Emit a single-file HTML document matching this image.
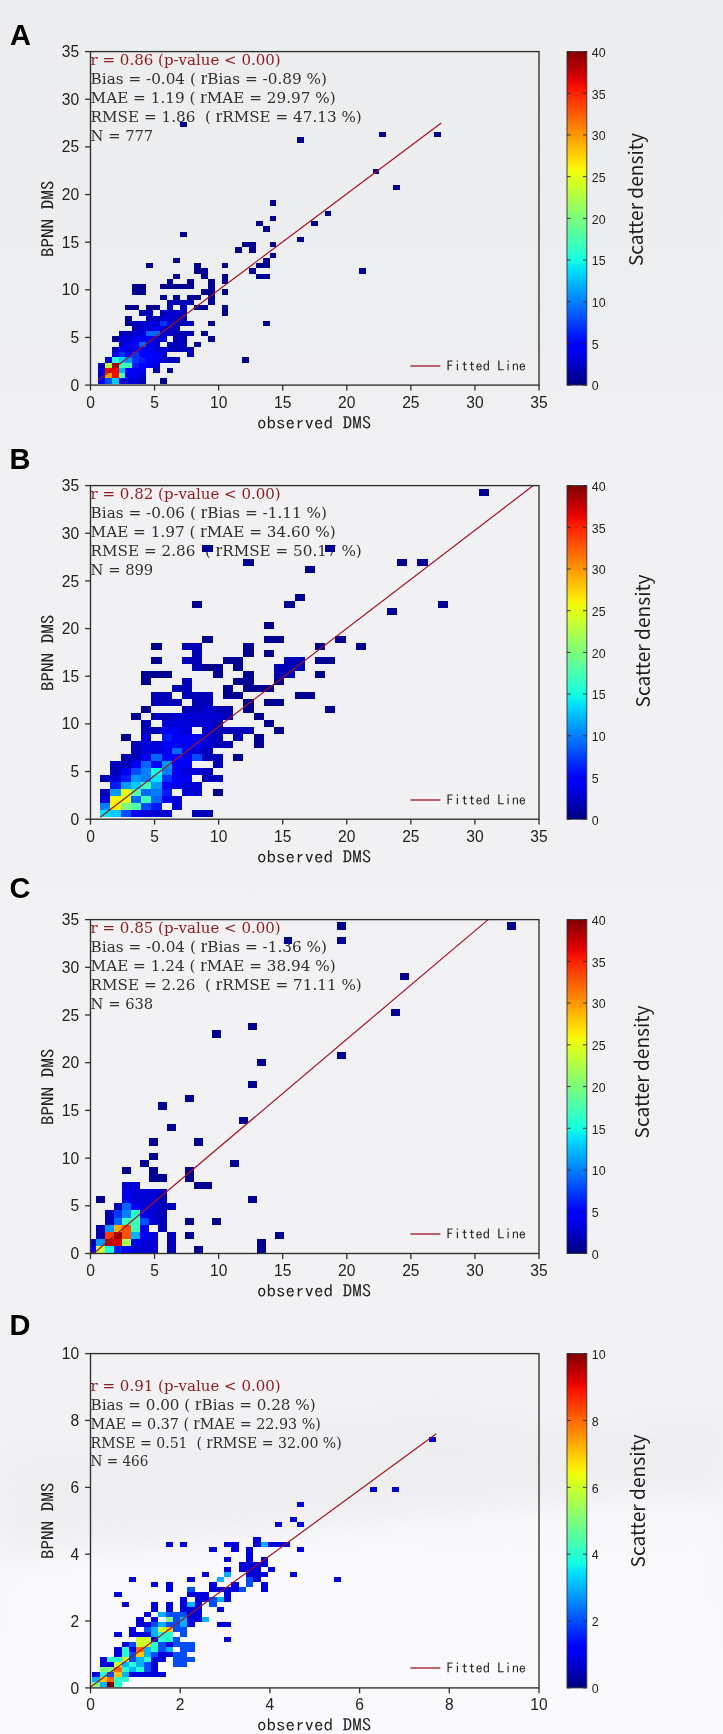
<!DOCTYPE html>
<html lang="en"><head><meta charset="utf-8"><title>BPNN DMS vs observed DMS</title>
<style>html,body{margin:0;padding:0;background:#f1f1f4}svg{display:block;filter:blur(0.45px)}.tk{font-family:"Liberation Sans",sans-serif;font-size:15.6px;fill:#222}.ck{font-family:"Liberation Sans",sans-serif;font-size:12.4px;fill:#222}.st{font-family:"DejaVu Serif","Liberation Serif",serif;font-size:14.8px;fill:#303030}.ax{font-family:"IPAGothic","Liberation Mono",monospace;fill:#222}.sd{font-family:"Noto Sans CJK SC","Liberation Sans",sans-serif;font-size:18.8px;fill:#1c1c1c}.pl{font-family:"Liberation Sans",sans-serif;font-weight:bold;font-size:29px;fill:#000}</style></head><body>
<svg width="723" height="1734" viewBox="0 0 723 1734">
<defs><linearGradient id="jet" x1="0" y1="1" x2="0" y2="0">
<stop offset="0.0000" stop-color="#000080"/>
<stop offset="0.0156" stop-color="#000092"/>
<stop offset="0.0312" stop-color="#0000a4"/>
<stop offset="0.0469" stop-color="#0000b6"/>
<stop offset="0.0625" stop-color="#0000c8"/>
<stop offset="0.0781" stop-color="#0000da"/>
<stop offset="0.0938" stop-color="#0000ec"/>
<stop offset="0.1094" stop-color="#0000fe"/>
<stop offset="0.1250" stop-color="#0000ff"/>
<stop offset="0.1406" stop-color="#0010ff"/>
<stop offset="0.1562" stop-color="#0020ff"/>
<stop offset="0.1719" stop-color="#0030ff"/>
<stop offset="0.1875" stop-color="#0040ff"/>
<stop offset="0.2031" stop-color="#0050ff"/>
<stop offset="0.2188" stop-color="#0060ff"/>
<stop offset="0.2344" stop-color="#0070ff"/>
<stop offset="0.2500" stop-color="#0080ff"/>
<stop offset="0.2656" stop-color="#008fff"/>
<stop offset="0.2812" stop-color="#009fff"/>
<stop offset="0.2969" stop-color="#00afff"/>
<stop offset="0.3125" stop-color="#00bfff"/>
<stop offset="0.3281" stop-color="#00cfff"/>
<stop offset="0.3438" stop-color="#00dffc"/>
<stop offset="0.3594" stop-color="#08efef"/>
<stop offset="0.3750" stop-color="#15ffe2"/>
<stop offset="0.3906" stop-color="#21ffd5"/>
<stop offset="0.4062" stop-color="#2effc9"/>
<stop offset="0.4219" stop-color="#3bffbc"/>
<stop offset="0.4375" stop-color="#48ffaf"/>
<stop offset="0.4531" stop-color="#55ffa2"/>
<stop offset="0.4688" stop-color="#62ff95"/>
<stop offset="0.4844" stop-color="#6fff88"/>
<stop offset="0.5000" stop-color="#7bff7b"/>
<stop offset="0.5156" stop-color="#88ff6f"/>
<stop offset="0.5312" stop-color="#95ff62"/>
<stop offset="0.5469" stop-color="#a2ff55"/>
<stop offset="0.5625" stop-color="#afff48"/>
<stop offset="0.5781" stop-color="#bcff3b"/>
<stop offset="0.5938" stop-color="#c9ff2e"/>
<stop offset="0.6094" stop-color="#d5ff21"/>
<stop offset="0.6250" stop-color="#e2ff15"/>
<stop offset="0.6406" stop-color="#effe08"/>
<stop offset="0.6562" stop-color="#fcf000"/>
<stop offset="0.6719" stop-color="#ffe100"/>
<stop offset="0.6875" stop-color="#ffd200"/>
<stop offset="0.7031" stop-color="#ffc300"/>
<stop offset="0.7188" stop-color="#ffb500"/>
<stop offset="0.7344" stop-color="#ffa600"/>
<stop offset="0.7500" stop-color="#ff9700"/>
<stop offset="0.7656" stop-color="#ff8800"/>
<stop offset="0.7812" stop-color="#ff7a00"/>
<stop offset="0.7969" stop-color="#ff6b00"/>
<stop offset="0.8125" stop-color="#ff5c00"/>
<stop offset="0.8281" stop-color="#ff4d00"/>
<stop offset="0.8438" stop-color="#ff3f00"/>
<stop offset="0.8594" stop-color="#ff3000"/>
<stop offset="0.8750" stop-color="#ff2100"/>
<stop offset="0.8906" stop-color="#fe1200"/>
<stop offset="0.9062" stop-color="#ec0400"/>
<stop offset="0.9219" stop-color="#da0000"/>
<stop offset="0.9375" stop-color="#c80000"/>
<stop offset="0.9531" stop-color="#b60000"/>
<stop offset="0.9688" stop-color="#a40000"/>
<stop offset="0.9844" stop-color="#920000"/>
<stop offset="1.0000" stop-color="#800000"/>
</linearGradient>
<linearGradient id="bgg" gradientUnits="userSpaceOnUse" x1="0" y1="0" x2="0" y2="1734"><stop offset="0" stop-color="#ecedef"/><stop offset="0.2" stop-color="#edeef0"/><stop offset="0.25" stop-color="#f1f1f4"/><stop offset="0.83" stop-color="#f2f2f5"/><stop offset="0.91" stop-color="#f7f7fa"/><stop offset="1" stop-color="#fafafd"/></linearGradient><filter id="soft" x="-20%" y="-20%" width="140%" height="140%"><feGaussianBlur stdDeviation="14"/></filter>
</defs>
<rect x="0" y="0" width="723" height="1734" fill="#f1f1f4"/>
<rect x="0" y="0" width="723" height="1734" fill="url(#bgg)"/><g filter="url(#soft)" opacity="0.6"><polygon points="0,1455 95,1450 300,1428 440,1412 560,1432 723,1420 723,1490 560,1500 330,1525 120,1545 0,1555" fill="#ebebee"/><polygon points="0,1560 200,1545 440,1515 723,1495 723,1734 0,1734" fill="#fbfbfe"/></g>
<g id="panel-A">
<rect x="90.5" y="51.6" width="448.5" height="333.5" fill="none"/>
<text class="st" x="90.6" y="65" xml:space="preserve" textLength="190.1" lengthAdjust="spacingAndGlyphs" style="fill:#8e1b1b">r = 0.86 (p-value &lt; 0.00)</text>
<text class="st" x="90.6" y="84.05" xml:space="preserve" textLength="236.3" lengthAdjust="spacingAndGlyphs">Bias = -0.04 ( <tspan font-family="Liberation Serif,serif" font-size="19px">r</tspan>Bias = -0.89 %)</text>
<text class="st" x="90.6" y="103.1" xml:space="preserve" textLength="245.1" lengthAdjust="spacingAndGlyphs">MAE = 1.19 ( <tspan font-family="Liberation Serif,serif" font-size="19px">r</tspan>MAE = 29.97 %)</text>
<text class="st" x="90.6" y="122.15" xml:space="preserve" textLength="271.2" lengthAdjust="spacingAndGlyphs">RMSE = 1.86  ( <tspan font-family="Liberation Serif,serif" font-size="19px">r</tspan>RMSE = 47.13 %)</text>
<text class="st" x="90.6" y="141.2" xml:space="preserve" textLength="62.6" lengthAdjust="spacingAndGlyphs">N = 777</text>
<clipPath id="clip0"><rect x="90.5" y="51.6" width="448.5" height="333.5"/></clipPath>
<g shape-rendering="crispEdges" clip-path="url(#clip0)">
<rect x="180" y="122" width="7" height="5" fill="#000091"/>
<rect x="379" y="132" width="7" height="5" fill="#000091"/>
<rect x="434" y="132" width="7" height="5" fill="#000091"/>
<rect x="297" y="137" width="7" height="6" fill="#000091"/>
<rect x="373" y="169" width="6" height="5" fill="#000091"/>
<rect x="393" y="185" width="7" height="5" fill="#000091"/>
<rect x="270" y="200" width="6" height="6" fill="#000091"/>
<rect x="325" y="211" width="6" height="5" fill="#000091"/>
<rect x="270" y="216" width="6" height="5" fill="#000091"/>
<rect x="256" y="221" width="7" height="5" fill="#000091"/>
<rect x="311" y="221" width="7" height="5" fill="#000091"/>
<rect x="263" y="226" width="7" height="6" fill="#000091"/>
<rect x="180" y="232" width="7" height="5" fill="#000091"/>
<rect x="297" y="237" width="7" height="5" fill="#000091"/>
<rect x="242" y="242" width="7" height="5" fill="#000091"/>
<rect x="249" y="242" width="7" height="5" fill="#000091"/>
<rect x="270" y="242" width="6" height="5" fill="#000091"/>
<rect x="235" y="247" width="7" height="6" fill="#000091"/>
<rect x="249" y="247" width="7" height="6" fill="#000091"/>
<rect x="270" y="253" width="6" height="5" fill="#000091"/>
<rect x="173" y="258" width="7" height="5" fill="#000091"/>
<rect x="263" y="258" width="7" height="5" fill="#000091"/>
<rect x="146" y="263" width="7" height="5" fill="#000091"/>
<rect x="194" y="263" width="7" height="5" fill="#000091"/>
<rect x="222" y="263" width="6" height="5" fill="#000091"/>
<rect x="256" y="263" width="7" height="5" fill="#000091"/>
<rect x="263" y="263" width="7" height="5" fill="#000091"/>
<rect x="194" y="268" width="7" height="6" fill="#000091"/>
<rect x="201" y="268" width="7" height="6" fill="#000091"/>
<rect x="249" y="268" width="7" height="6" fill="#000091"/>
<rect x="359" y="268" width="7" height="6" fill="#000091"/>
<rect x="173" y="274" width="7" height="5" fill="#000091"/>
<rect x="201" y="274" width="7" height="5" fill="#000091"/>
<rect x="222" y="274" width="6" height="5" fill="#000091"/>
<rect x="256" y="274" width="7" height="5" fill="#000091"/>
<rect x="263" y="274" width="7" height="5" fill="#000091"/>
<rect x="167" y="279" width="6" height="5" fill="#000091"/>
<rect x="187" y="279" width="7" height="5" fill="#000091"/>
<rect x="208" y="279" width="7" height="5" fill="#000091"/>
<rect x="222" y="279" width="6" height="5" fill="#000091"/>
<rect x="132" y="284" width="7" height="5" fill="#000091"/>
<rect x="139" y="284" width="7" height="5" fill="#000091"/>
<rect x="160" y="284" width="7" height="5" fill="#000091"/>
<rect x="167" y="284" width="6" height="5" fill="#000091"/>
<rect x="173" y="284" width="7" height="5" fill="#000091"/>
<rect x="180" y="284" width="7" height="5" fill="#000091"/>
<rect x="187" y="284" width="7" height="5" fill="#000091"/>
<rect x="208" y="284" width="7" height="5" fill="#000091"/>
<rect x="132" y="289" width="7" height="6" fill="#000091"/>
<rect x="139" y="289" width="7" height="6" fill="#000091"/>
<rect x="201" y="289" width="7" height="6" fill="#000091"/>
<rect x="208" y="289" width="7" height="6" fill="#000091"/>
<rect x="222" y="289" width="6" height="6" fill="#000091"/>
<rect x="160" y="295" width="7" height="5" fill="#000091"/>
<rect x="173" y="295" width="7" height="5" fill="#000091"/>
<rect x="187" y="295" width="7" height="5" fill="#000091"/>
<rect x="194" y="295" width="7" height="5" fill="#000091"/>
<rect x="208" y="295" width="7" height="5" fill="#000091"/>
<rect x="167" y="300" width="6" height="5" fill="#0000b9"/>
<rect x="173" y="300" width="7" height="5" fill="#0000b9"/>
<rect x="180" y="300" width="7" height="5" fill="#0000b9"/>
<rect x="187" y="300" width="7" height="5" fill="#0000b9"/>
<rect x="208" y="300" width="7" height="5" fill="#000091"/>
<rect x="125" y="305" width="7" height="5" fill="#000091"/>
<rect x="132" y="305" width="7" height="5" fill="#000091"/>
<rect x="146" y="305" width="7" height="5" fill="#000091"/>
<rect x="153" y="305" width="7" height="5" fill="#000091"/>
<rect x="167" y="305" width="6" height="5" fill="#0000b9"/>
<rect x="180" y="305" width="7" height="5" fill="#0000b9"/>
<rect x="194" y="305" width="7" height="5" fill="#000091"/>
<rect x="201" y="305" width="7" height="5" fill="#000091"/>
<rect x="222" y="305" width="6" height="5" fill="#000091"/>
<rect x="139" y="310" width="7" height="6" fill="#0000b9"/>
<rect x="146" y="310" width="7" height="6" fill="#0000b9"/>
<rect x="160" y="310" width="7" height="6" fill="#0000b9"/>
<rect x="167" y="310" width="6" height="6" fill="#0000d6"/>
<rect x="173" y="310" width="7" height="6" fill="#0000d6"/>
<rect x="180" y="310" width="7" height="6" fill="#0000b9"/>
<rect x="222" y="310" width="6" height="6" fill="#000091"/>
<rect x="125" y="316" width="7" height="5" fill="#000091"/>
<rect x="146" y="316" width="7" height="5" fill="#0000b9"/>
<rect x="153" y="316" width="7" height="5" fill="#0000b9"/>
<rect x="160" y="316" width="7" height="5" fill="#0000d6"/>
<rect x="167" y="316" width="6" height="5" fill="#0000d6"/>
<rect x="173" y="316" width="7" height="5" fill="#0000b9"/>
<rect x="180" y="316" width="7" height="5" fill="#0000b9"/>
<rect x="125" y="321" width="7" height="5" fill="#000091"/>
<rect x="132" y="321" width="7" height="5" fill="#0000b9"/>
<rect x="139" y="321" width="7" height="5" fill="#0000d6"/>
<rect x="146" y="321" width="7" height="5" fill="#0000d6"/>
<rect x="153" y="321" width="7" height="5" fill="#0000d6"/>
<rect x="160" y="321" width="7" height="5" fill="#0033ff"/>
<rect x="167" y="321" width="6" height="5" fill="#0000d6"/>
<rect x="173" y="321" width="7" height="5" fill="#0000b9"/>
<rect x="180" y="321" width="7" height="5" fill="#0000b9"/>
<rect x="187" y="321" width="7" height="5" fill="#0000b9"/>
<rect x="208" y="321" width="7" height="5" fill="#000091"/>
<rect x="263" y="321" width="7" height="5" fill="#000091"/>
<rect x="132" y="326" width="7" height="5" fill="#0000b9"/>
<rect x="139" y="326" width="7" height="5" fill="#0000d6"/>
<rect x="146" y="326" width="7" height="5" fill="#0000d6"/>
<rect x="153" y="326" width="7" height="5" fill="#0000f3"/>
<rect x="160" y="326" width="7" height="5" fill="#0000d6"/>
<rect x="167" y="326" width="6" height="5" fill="#0000b9"/>
<rect x="173" y="326" width="7" height="5" fill="#0000b9"/>
<rect x="119" y="331" width="6" height="5" fill="#0000b9"/>
<rect x="125" y="331" width="7" height="5" fill="#0000b9"/>
<rect x="132" y="331" width="7" height="5" fill="#0000d6"/>
<rect x="139" y="331" width="7" height="5" fill="#0000d6"/>
<rect x="146" y="331" width="7" height="5" fill="#0066ff"/>
<rect x="153" y="331" width="7" height="5" fill="#0066ff"/>
<rect x="160" y="331" width="7" height="5" fill="#0000d6"/>
<rect x="167" y="331" width="6" height="5" fill="#0000b9"/>
<rect x="173" y="331" width="7" height="5" fill="#0000b9"/>
<rect x="180" y="331" width="7" height="5" fill="#0000b9"/>
<rect x="187" y="331" width="7" height="5" fill="#0000b9"/>
<rect x="201" y="331" width="7" height="5" fill="#000091"/>
<rect x="112" y="336" width="7" height="6" fill="#000091"/>
<rect x="119" y="336" width="6" height="6" fill="#0000d6"/>
<rect x="125" y="336" width="7" height="6" fill="#0000d6"/>
<rect x="132" y="336" width="7" height="6" fill="#0000f3"/>
<rect x="139" y="336" width="7" height="6" fill="#0000f3"/>
<rect x="146" y="336" width="7" height="6" fill="#0000f3"/>
<rect x="153" y="336" width="7" height="6" fill="#0000d6"/>
<rect x="160" y="336" width="7" height="6" fill="#0000d6"/>
<rect x="173" y="336" width="7" height="6" fill="#0000b9"/>
<rect x="180" y="336" width="7" height="6" fill="#0000b9"/>
<rect x="208" y="336" width="7" height="6" fill="#000091"/>
<rect x="119" y="342" width="6" height="5" fill="#0000d6"/>
<rect x="125" y="342" width="7" height="5" fill="#0000f3"/>
<rect x="132" y="342" width="7" height="5" fill="#0000ff"/>
<rect x="139" y="342" width="7" height="5" fill="#0066ff"/>
<rect x="146" y="342" width="7" height="5" fill="#0000f3"/>
<rect x="153" y="342" width="7" height="5" fill="#0000d6"/>
<rect x="167" y="342" width="6" height="5" fill="#0000b9"/>
<rect x="173" y="342" width="7" height="5" fill="#0000b9"/>
<rect x="180" y="342" width="7" height="5" fill="#0000b9"/>
<rect x="194" y="342" width="7" height="5" fill="#000091"/>
<rect x="112" y="347" width="7" height="5" fill="#0000b9"/>
<rect x="119" y="347" width="6" height="5" fill="#0000ff"/>
<rect x="125" y="347" width="7" height="5" fill="#0000d6"/>
<rect x="132" y="347" width="7" height="5" fill="#0000ff"/>
<rect x="139" y="347" width="7" height="5" fill="#0000ff"/>
<rect x="146" y="347" width="7" height="5" fill="#0000f3"/>
<rect x="153" y="347" width="7" height="5" fill="#0000d6"/>
<rect x="160" y="347" width="7" height="5" fill="#0000d6"/>
<rect x="167" y="347" width="6" height="5" fill="#0000b9"/>
<rect x="173" y="347" width="7" height="5" fill="#0000b9"/>
<rect x="180" y="347" width="7" height="5" fill="#0000b9"/>
<rect x="187" y="347" width="7" height="5" fill="#0000b9"/>
<rect x="112" y="352" width="7" height="5" fill="#0000f3"/>
<rect x="119" y="352" width="6" height="5" fill="#0033ff"/>
<rect x="125" y="352" width="7" height="5" fill="#0000ff"/>
<rect x="132" y="352" width="7" height="5" fill="#0033ff"/>
<rect x="139" y="352" width="7" height="5" fill="#0000ff"/>
<rect x="146" y="352" width="7" height="5" fill="#0000ff"/>
<rect x="153" y="352" width="7" height="5" fill="#0000f3"/>
<rect x="160" y="352" width="7" height="5" fill="#0000d6"/>
<rect x="187" y="352" width="7" height="5" fill="#0000b9"/>
<rect x="105" y="357" width="7" height="6" fill="#0000d6"/>
<rect x="112" y="357" width="7" height="6" fill="#29ffce"/>
<rect x="119" y="357" width="6" height="6" fill="#00ccff"/>
<rect x="125" y="357" width="7" height="6" fill="#0099ff"/>
<rect x="132" y="357" width="7" height="6" fill="#0033ff"/>
<rect x="139" y="357" width="7" height="6" fill="#0019ff"/>
<rect x="146" y="357" width="7" height="6" fill="#0000ff"/>
<rect x="153" y="357" width="7" height="6" fill="#0000f3"/>
<rect x="160" y="357" width="7" height="6" fill="#0000d6"/>
<rect x="167" y="357" width="6" height="6" fill="#0000b9"/>
<rect x="173" y="357" width="7" height="6" fill="#0000b9"/>
<rect x="242" y="357" width="7" height="6" fill="#000091"/>
<rect x="98" y="363" width="7" height="5" fill="#0000b9"/>
<rect x="105" y="363" width="7" height="5" fill="#b9ff3e"/>
<rect x="112" y="363" width="7" height="5" fill="#9c0000"/>
<rect x="119" y="363" width="6" height="5" fill="#3effb9"/>
<rect x="125" y="363" width="7" height="5" fill="#3effb9"/>
<rect x="132" y="363" width="7" height="5" fill="#0019ff"/>
<rect x="139" y="363" width="7" height="5" fill="#0000ff"/>
<rect x="146" y="363" width="7" height="5" fill="#0000f3"/>
<rect x="153" y="363" width="7" height="5" fill="#0000d6"/>
<rect x="98" y="368" width="7" height="5" fill="#0000d6"/>
<rect x="105" y="368" width="7" height="5" fill="#f30900"/>
<rect x="112" y="368" width="7" height="5" fill="#f30900"/>
<rect x="119" y="368" width="6" height="5" fill="#00b2ff"/>
<rect x="125" y="368" width="7" height="5" fill="#0000ff"/>
<rect x="132" y="368" width="7" height="5" fill="#0000f3"/>
<rect x="139" y="368" width="7" height="5" fill="#0000f3"/>
<rect x="153" y="368" width="7" height="5" fill="#0000b9"/>
<rect x="167" y="368" width="6" height="5" fill="#000091"/>
<rect x="98" y="373" width="7" height="5" fill="#0000d6"/>
<rect x="105" y="373" width="7" height="5" fill="#ff9700"/>
<rect x="112" y="373" width="7" height="5" fill="#f30900"/>
<rect x="119" y="373" width="6" height="5" fill="#52ffa5"/>
<rect x="125" y="373" width="7" height="5" fill="#0000f3"/>
<rect x="132" y="373" width="7" height="5" fill="#0000f3"/>
<rect x="139" y="373" width="7" height="5" fill="#0000d6"/>
<rect x="98" y="378" width="7" height="6" fill="#0000ff"/>
<rect x="105" y="378" width="7" height="6" fill="#004dff"/>
<rect x="112" y="378" width="7" height="6" fill="#00ccff"/>
<rect x="119" y="378" width="6" height="6" fill="#0000d6"/>
<rect x="125" y="378" width="7" height="6" fill="#0000d6"/>
<rect x="132" y="378" width="7" height="6" fill="#0000d6"/>
<rect x="139" y="378" width="7" height="6" fill="#0000b9"/>
<rect x="160" y="378" width="7" height="6" fill="#000091"/>
</g>
<line x1="97.93" y1="380.34" x2="441.23" y2="123.06" stroke="#a01424" stroke-width="1.2" clip-path="url(#clip0)"/>
<rect x="90.5" y="51.6" width="448.5" height="333.5" fill="none" stroke="#2e2e2e" stroke-width="1.35"/>
<line x1="90.5" y1="385.1" x2="90.5" y2="390.5" stroke="#2e2e2e" stroke-width="1.3"/>
<text class="tk" x="90.5" y="407.8" text-anchor="middle">0</text>
<line x1="85.1" y1="385.1" x2="90.5" y2="385.1" stroke="#2e2e2e" stroke-width="1.3"/>
<text class="tk" x="79.1" y="390.7" text-anchor="end">0</text>
<line x1="154.57" y1="385.1" x2="154.57" y2="390.5" stroke="#2e2e2e" stroke-width="1.3"/>
<text class="tk" x="154.57" y="407.8" text-anchor="middle">5</text>
<line x1="85.1" y1="337.46" x2="90.5" y2="337.46" stroke="#2e2e2e" stroke-width="1.3"/>
<text class="tk" x="79.1" y="343.06" text-anchor="end">5</text>
<line x1="218.64" y1="385.1" x2="218.64" y2="390.5" stroke="#2e2e2e" stroke-width="1.3"/>
<text class="tk" x="218.64" y="407.8" text-anchor="middle">10</text>
<line x1="85.1" y1="289.81" x2="90.5" y2="289.81" stroke="#2e2e2e" stroke-width="1.3"/>
<text class="tk" x="79.1" y="295.41" text-anchor="end">10</text>
<line x1="282.71" y1="385.1" x2="282.71" y2="390.5" stroke="#2e2e2e" stroke-width="1.3"/>
<text class="tk" x="282.71" y="407.8" text-anchor="middle">15</text>
<line x1="85.1" y1="242.17" x2="90.5" y2="242.17" stroke="#2e2e2e" stroke-width="1.3"/>
<text class="tk" x="79.1" y="247.77" text-anchor="end">15</text>
<line x1="346.79" y1="385.1" x2="346.79" y2="390.5" stroke="#2e2e2e" stroke-width="1.3"/>
<text class="tk" x="346.79" y="407.8" text-anchor="middle">20</text>
<line x1="85.1" y1="194.53" x2="90.5" y2="194.53" stroke="#2e2e2e" stroke-width="1.3"/>
<text class="tk" x="79.1" y="200.13" text-anchor="end">20</text>
<line x1="410.86" y1="385.1" x2="410.86" y2="390.5" stroke="#2e2e2e" stroke-width="1.3"/>
<text class="tk" x="410.86" y="407.8" text-anchor="middle">25</text>
<line x1="85.1" y1="146.89" x2="90.5" y2="146.89" stroke="#2e2e2e" stroke-width="1.3"/>
<text class="tk" x="79.1" y="152.49" text-anchor="end">25</text>
<line x1="474.93" y1="385.1" x2="474.93" y2="390.5" stroke="#2e2e2e" stroke-width="1.3"/>
<text class="tk" x="474.93" y="407.8" text-anchor="middle">30</text>
<line x1="85.1" y1="99.24" x2="90.5" y2="99.24" stroke="#2e2e2e" stroke-width="1.3"/>
<text class="tk" x="79.1" y="104.84" text-anchor="end">30</text>
<line x1="539" y1="385.1" x2="539" y2="390.5" stroke="#2e2e2e" stroke-width="1.3"/>
<text class="tk" x="539" y="407.8" text-anchor="middle">35</text>
<line x1="85.1" y1="51.6" x2="90.5" y2="51.6" stroke="#2e2e2e" stroke-width="1.3"/>
<text class="tk" x="79.1" y="57.2" text-anchor="end">35</text>
<text class="ax" font-size="17px" x="257.0" y="428.7" textLength="114.2" lengthAdjust="spacingAndGlyphs">observed DMS</text>
<text class="ax" font-size="17px" transform="translate(54.2 257.1) rotate(-90)" textLength="76.5" lengthAdjust="spacingAndGlyphs">BPNN DMS</text>
<line x1="410.4" y1="366" x2="440.4" y2="366" stroke="#a8323f" stroke-width="1.5"/>
<text class="ax" font-size="14px" x="446.5" y="371.3" textLength="79.6" lengthAdjust="spacingAndGlyphs">Fitted Line</text>
<rect x="567" y="51.6" width="19.8" height="333.5" fill="url(#jet)" stroke="#30303a" stroke-width="0.9"/>
<line x1="567" y1="385.1" x2="570.8" y2="385.1" stroke="#2a2a2a" stroke-width="0.9"/>
<line x1="583" y1="385.1" x2="586.8" y2="385.1" stroke="#2a2a2a" stroke-width="0.9"/>
<text class="ck" x="591.8" y="390.4">0</text>
<line x1="567" y1="343.41" x2="570.8" y2="343.41" stroke="#2a2a2a" stroke-width="0.9"/>
<line x1="583" y1="343.41" x2="586.8" y2="343.41" stroke="#2a2a2a" stroke-width="0.9"/>
<text class="ck" x="591.8" y="348.71">5</text>
<line x1="567" y1="301.73" x2="570.8" y2="301.73" stroke="#2a2a2a" stroke-width="0.9"/>
<line x1="583" y1="301.73" x2="586.8" y2="301.73" stroke="#2a2a2a" stroke-width="0.9"/>
<text class="ck" x="591.8" y="307.03">10</text>
<line x1="567" y1="260.04" x2="570.8" y2="260.04" stroke="#2a2a2a" stroke-width="0.9"/>
<line x1="583" y1="260.04" x2="586.8" y2="260.04" stroke="#2a2a2a" stroke-width="0.9"/>
<text class="ck" x="591.8" y="265.34">15</text>
<line x1="567" y1="218.35" x2="570.8" y2="218.35" stroke="#2a2a2a" stroke-width="0.9"/>
<line x1="583" y1="218.35" x2="586.8" y2="218.35" stroke="#2a2a2a" stroke-width="0.9"/>
<text class="ck" x="591.8" y="223.65">20</text>
<line x1="567" y1="176.66" x2="570.8" y2="176.66" stroke="#2a2a2a" stroke-width="0.9"/>
<line x1="583" y1="176.66" x2="586.8" y2="176.66" stroke="#2a2a2a" stroke-width="0.9"/>
<text class="ck" x="591.8" y="181.96">25</text>
<line x1="567" y1="134.98" x2="570.8" y2="134.98" stroke="#2a2a2a" stroke-width="0.9"/>
<line x1="583" y1="134.98" x2="586.8" y2="134.98" stroke="#2a2a2a" stroke-width="0.9"/>
<text class="ck" x="591.8" y="140.28">30</text>
<line x1="567" y1="93.29" x2="570.8" y2="93.29" stroke="#2a2a2a" stroke-width="0.9"/>
<line x1="583" y1="93.29" x2="586.8" y2="93.29" stroke="#2a2a2a" stroke-width="0.9"/>
<text class="ck" x="591.8" y="98.59">35</text>
<line x1="567" y1="51.6" x2="570.8" y2="51.6" stroke="#2a2a2a" stroke-width="0.9"/>
<line x1="583" y1="51.6" x2="586.8" y2="51.6" stroke="#2a2a2a" stroke-width="0.9"/>
<text class="ck" x="591.8" y="56.9">40</text>
<text class="sd" transform="translate(643 199.6) rotate(-90)" text-anchor="middle" textLength="133" lengthAdjust="spacingAndGlyphs">Scatter density</text>
<text class="pl" x="9.9" y="45.2">A</text>
</g>
<g id="panel-B">
<rect x="90.5" y="485.6" width="448.5" height="333.6" fill="none"/>
<text class="st" x="90.6" y="499" xml:space="preserve" textLength="190.1" lengthAdjust="spacingAndGlyphs" style="fill:#8e1b1b">r = 0.82 (p-value &lt; 0.00)</text>
<text class="st" x="90.6" y="518.05" xml:space="preserve" textLength="236.3" lengthAdjust="spacingAndGlyphs">Bias = -0.06 ( <tspan font-family="Liberation Serif,serif" font-size="19px">r</tspan>Bias = -1.11 %)</text>
<text class="st" x="90.6" y="537.1" xml:space="preserve" textLength="245.1" lengthAdjust="spacingAndGlyphs">MAE = 1.97 ( <tspan font-family="Liberation Serif,serif" font-size="19px">r</tspan>MAE = 34.60 %)</text>
<text class="st" x="90.6" y="556.15" xml:space="preserve" textLength="271.2" lengthAdjust="spacingAndGlyphs">RMSE = 2.86  ( <tspan font-family="Liberation Serif,serif" font-size="19px">r</tspan>RMSE = 50.17 %)</text>
<text class="st" x="90.6" y="575.2" xml:space="preserve" textLength="62.6" lengthAdjust="spacingAndGlyphs">N = 899</text>
<clipPath id="clip1"><rect x="90.5" y="485.6" width="448.5" height="333.6"/></clipPath>
<g shape-rendering="crispEdges" clip-path="url(#clip1)">
<rect x="479" y="489" width="10" height="7" fill="#000091"/>
<rect x="202" y="545" width="11" height="7" fill="#000091"/>
<rect x="325" y="545" width="10" height="7" fill="#000091"/>
<rect x="243" y="559" width="11" height="7" fill="#000091"/>
<rect x="397" y="559" width="10" height="7" fill="#000091"/>
<rect x="417" y="559" width="11" height="7" fill="#000091"/>
<rect x="305" y="566" width="10" height="7" fill="#000091"/>
<rect x="295" y="594" width="10" height="7" fill="#000091"/>
<rect x="192" y="601" width="10" height="7" fill="#000091"/>
<rect x="284" y="601" width="11" height="7" fill="#000091"/>
<rect x="438" y="601" width="10" height="7" fill="#000091"/>
<rect x="387" y="608" width="10" height="7" fill="#000091"/>
<rect x="264" y="622" width="10" height="7" fill="#000091"/>
<rect x="202" y="636" width="11" height="7" fill="#000091"/>
<rect x="264" y="636" width="10" height="7" fill="#000091"/>
<rect x="274" y="636" width="10" height="7" fill="#000091"/>
<rect x="335" y="636" width="11" height="7" fill="#000091"/>
<rect x="151" y="643" width="11" height="7" fill="#000091"/>
<rect x="182" y="643" width="10" height="7" fill="#0000b9"/>
<rect x="192" y="643" width="10" height="7" fill="#0000b9"/>
<rect x="243" y="643" width="11" height="7" fill="#000091"/>
<rect x="315" y="643" width="10" height="7" fill="#000091"/>
<rect x="356" y="643" width="10" height="7" fill="#000091"/>
<rect x="192" y="650" width="10" height="7" fill="#0000b9"/>
<rect x="243" y="650" width="11" height="7" fill="#000091"/>
<rect x="264" y="650" width="10" height="7" fill="#000091"/>
<rect x="151" y="657" width="11" height="7" fill="#000091"/>
<rect x="182" y="657" width="10" height="7" fill="#0000b9"/>
<rect x="192" y="657" width="10" height="7" fill="#0000b9"/>
<rect x="223" y="657" width="10" height="7" fill="#000091"/>
<rect x="233" y="657" width="10" height="7" fill="#000091"/>
<rect x="284" y="657" width="11" height="7" fill="#0000b9"/>
<rect x="295" y="657" width="10" height="7" fill="#0000b9"/>
<rect x="315" y="657" width="10" height="7" fill="#000091"/>
<rect x="325" y="657" width="10" height="7" fill="#000091"/>
<rect x="192" y="664" width="10" height="7" fill="#0000b9"/>
<rect x="202" y="664" width="11" height="7" fill="#000091"/>
<rect x="213" y="664" width="10" height="7" fill="#000091"/>
<rect x="233" y="664" width="10" height="7" fill="#000091"/>
<rect x="274" y="664" width="10" height="7" fill="#0000b9"/>
<rect x="284" y="664" width="11" height="7" fill="#0000b9"/>
<rect x="295" y="664" width="10" height="7" fill="#0000b9"/>
<rect x="141" y="671" width="10" height="7" fill="#000091"/>
<rect x="151" y="671" width="11" height="7" fill="#000091"/>
<rect x="162" y="671" width="10" height="7" fill="#000091"/>
<rect x="213" y="671" width="10" height="7" fill="#000091"/>
<rect x="243" y="671" width="11" height="7" fill="#000091"/>
<rect x="274" y="671" width="10" height="7" fill="#0000b9"/>
<rect x="284" y="671" width="11" height="7" fill="#0000b9"/>
<rect x="315" y="671" width="10" height="7" fill="#000091"/>
<rect x="141" y="678" width="10" height="7" fill="#000091"/>
<rect x="182" y="678" width="10" height="7" fill="#0000b9"/>
<rect x="233" y="678" width="10" height="7" fill="#000091"/>
<rect x="243" y="678" width="11" height="7" fill="#000091"/>
<rect x="274" y="678" width="10" height="7" fill="#000091"/>
<rect x="172" y="685" width="10" height="7" fill="#0000b9"/>
<rect x="182" y="685" width="10" height="7" fill="#0000b9"/>
<rect x="223" y="685" width="10" height="7" fill="#000091"/>
<rect x="243" y="685" width="11" height="7" fill="#000091"/>
<rect x="254" y="685" width="10" height="7" fill="#000091"/>
<rect x="264" y="685" width="10" height="7" fill="#000091"/>
<rect x="151" y="692" width="11" height="7" fill="#0000b9"/>
<rect x="162" y="692" width="10" height="7" fill="#0000b9"/>
<rect x="182" y="692" width="10" height="7" fill="#0000b9"/>
<rect x="192" y="692" width="10" height="7" fill="#0000b9"/>
<rect x="202" y="692" width="11" height="7" fill="#0000b9"/>
<rect x="223" y="692" width="10" height="7" fill="#000091"/>
<rect x="233" y="692" width="10" height="7" fill="#000091"/>
<rect x="295" y="692" width="10" height="7" fill="#000091"/>
<rect x="305" y="692" width="10" height="7" fill="#000091"/>
<rect x="151" y="699" width="11" height="7" fill="#0000b9"/>
<rect x="162" y="699" width="10" height="7" fill="#0000b9"/>
<rect x="172" y="699" width="10" height="7" fill="#0000b9"/>
<rect x="192" y="699" width="10" height="7" fill="#0000b9"/>
<rect x="202" y="699" width="11" height="7" fill="#0000b9"/>
<rect x="243" y="699" width="11" height="7" fill="#000091"/>
<rect x="264" y="699" width="10" height="7" fill="#000091"/>
<rect x="274" y="699" width="10" height="7" fill="#000091"/>
<rect x="141" y="706" width="10" height="7" fill="#000091"/>
<rect x="182" y="706" width="10" height="7" fill="#0000b9"/>
<rect x="192" y="706" width="10" height="7" fill="#0000b9"/>
<rect x="202" y="706" width="11" height="7" fill="#0000d6"/>
<rect x="213" y="706" width="10" height="7" fill="#0000b9"/>
<rect x="223" y="706" width="10" height="7" fill="#0000b9"/>
<rect x="243" y="706" width="11" height="7" fill="#000091"/>
<rect x="325" y="706" width="10" height="7" fill="#000091"/>
<rect x="131" y="713" width="10" height="7" fill="#000091"/>
<rect x="151" y="713" width="11" height="7" fill="#0000b9"/>
<rect x="162" y="713" width="10" height="7" fill="#0000b9"/>
<rect x="172" y="713" width="10" height="7" fill="#0000d6"/>
<rect x="182" y="713" width="10" height="7" fill="#0000d6"/>
<rect x="192" y="713" width="10" height="7" fill="#0000d6"/>
<rect x="202" y="713" width="11" height="7" fill="#0000d6"/>
<rect x="213" y="713" width="10" height="7" fill="#0000d6"/>
<rect x="223" y="713" width="10" height="7" fill="#0000b9"/>
<rect x="254" y="713" width="10" height="7" fill="#000091"/>
<rect x="141" y="720" width="10" height="7" fill="#0000b9"/>
<rect x="162" y="720" width="10" height="7" fill="#0000d6"/>
<rect x="172" y="720" width="10" height="7" fill="#0000d6"/>
<rect x="182" y="720" width="10" height="7" fill="#0000d6"/>
<rect x="192" y="720" width="10" height="7" fill="#0000d6"/>
<rect x="202" y="720" width="11" height="7" fill="#0000d6"/>
<rect x="213" y="720" width="10" height="7" fill="#0000b9"/>
<rect x="264" y="720" width="10" height="7" fill="#000091"/>
<rect x="141" y="727" width="10" height="7" fill="#0000b9"/>
<rect x="151" y="727" width="11" height="7" fill="#0000b9"/>
<rect x="162" y="727" width="10" height="7" fill="#0000f3"/>
<rect x="172" y="727" width="10" height="7" fill="#0000f3"/>
<rect x="182" y="727" width="10" height="7" fill="#0000d6"/>
<rect x="202" y="727" width="11" height="7" fill="#0000d6"/>
<rect x="213" y="727" width="10" height="7" fill="#0000b9"/>
<rect x="223" y="727" width="10" height="7" fill="#0000b9"/>
<rect x="233" y="727" width="10" height="7" fill="#0000b9"/>
<rect x="243" y="727" width="11" height="7" fill="#0000b9"/>
<rect x="274" y="727" width="10" height="7" fill="#000091"/>
<rect x="121" y="734" width="10" height="7" fill="#000091"/>
<rect x="141" y="734" width="10" height="7" fill="#0000d6"/>
<rect x="162" y="734" width="10" height="7" fill="#0019ff"/>
<rect x="172" y="734" width="10" height="7" fill="#0000f3"/>
<rect x="182" y="734" width="10" height="7" fill="#0000f3"/>
<rect x="192" y="734" width="10" height="7" fill="#0000f3"/>
<rect x="202" y="734" width="11" height="7" fill="#0000d6"/>
<rect x="213" y="734" width="10" height="7" fill="#0000b9"/>
<rect x="233" y="734" width="10" height="7" fill="#0000b9"/>
<rect x="254" y="734" width="10" height="7" fill="#000091"/>
<rect x="131" y="741" width="10" height="7" fill="#0000b9"/>
<rect x="141" y="741" width="10" height="7" fill="#0000d6"/>
<rect x="151" y="741" width="11" height="7" fill="#0000d6"/>
<rect x="162" y="741" width="10" height="7" fill="#0000ff"/>
<rect x="172" y="741" width="10" height="7" fill="#0000ff"/>
<rect x="182" y="741" width="10" height="7" fill="#0000f3"/>
<rect x="192" y="741" width="10" height="7" fill="#0000ff"/>
<rect x="202" y="741" width="11" height="7" fill="#0000d6"/>
<rect x="213" y="741" width="10" height="7" fill="#0000b9"/>
<rect x="223" y="741" width="10" height="7" fill="#0000b9"/>
<rect x="254" y="741" width="10" height="7" fill="#000091"/>
<rect x="131" y="748" width="10" height="6" fill="#0000b9"/>
<rect x="141" y="748" width="10" height="6" fill="#0000d6"/>
<rect x="151" y="748" width="11" height="6" fill="#0000d6"/>
<rect x="162" y="748" width="10" height="6" fill="#0000f3"/>
<rect x="172" y="748" width="10" height="6" fill="#0066ff"/>
<rect x="182" y="748" width="10" height="6" fill="#0000f3"/>
<rect x="192" y="748" width="10" height="6" fill="#0000d6"/>
<rect x="202" y="748" width="11" height="6" fill="#0000b9"/>
<rect x="121" y="754" width="10" height="7" fill="#0000b9"/>
<rect x="131" y="754" width="10" height="7" fill="#0000b9"/>
<rect x="141" y="754" width="10" height="7" fill="#0000f3"/>
<rect x="151" y="754" width="11" height="7" fill="#0066ff"/>
<rect x="162" y="754" width="10" height="7" fill="#0000ff"/>
<rect x="172" y="754" width="10" height="7" fill="#0000ff"/>
<rect x="182" y="754" width="10" height="7" fill="#0000f3"/>
<rect x="192" y="754" width="10" height="7" fill="#004dff"/>
<rect x="202" y="754" width="11" height="7" fill="#0000b9"/>
<rect x="213" y="754" width="10" height="7" fill="#0000b9"/>
<rect x="233" y="754" width="10" height="7" fill="#000091"/>
<rect x="110" y="761" width="11" height="7" fill="#0000b9"/>
<rect x="121" y="761" width="10" height="7" fill="#0000b9"/>
<rect x="131" y="761" width="10" height="7" fill="#0000ff"/>
<rect x="141" y="761" width="10" height="7" fill="#0066ff"/>
<rect x="151" y="761" width="11" height="7" fill="#0000ff"/>
<rect x="162" y="761" width="10" height="7" fill="#0099ff"/>
<rect x="172" y="761" width="10" height="7" fill="#0000f3"/>
<rect x="182" y="761" width="10" height="7" fill="#0000f3"/>
<rect x="213" y="761" width="10" height="7" fill="#0000b9"/>
<rect x="110" y="768" width="11" height="7" fill="#0000b9"/>
<rect x="121" y="768" width="10" height="7" fill="#0000f3"/>
<rect x="131" y="768" width="10" height="7" fill="#004dff"/>
<rect x="141" y="768" width="10" height="7" fill="#0080ff"/>
<rect x="151" y="768" width="11" height="7" fill="#15ffe2"/>
<rect x="162" y="768" width="10" height="7" fill="#0080ff"/>
<rect x="172" y="768" width="10" height="7" fill="#0000f3"/>
<rect x="182" y="768" width="10" height="7" fill="#0000d6"/>
<rect x="192" y="768" width="10" height="7" fill="#0000d6"/>
<rect x="202" y="768" width="11" height="7" fill="#0000b9"/>
<rect x="100" y="775" width="10" height="7" fill="#0000b9"/>
<rect x="110" y="775" width="11" height="7" fill="#0000d6"/>
<rect x="121" y="775" width="10" height="7" fill="#0019ff"/>
<rect x="131" y="775" width="10" height="7" fill="#0099ff"/>
<rect x="141" y="775" width="10" height="7" fill="#0080ff"/>
<rect x="151" y="775" width="11" height="7" fill="#00e5f7"/>
<rect x="162" y="775" width="10" height="7" fill="#0033ff"/>
<rect x="172" y="775" width="10" height="7" fill="#0000f3"/>
<rect x="182" y="775" width="10" height="7" fill="#0000f3"/>
<rect x="202" y="775" width="11" height="7" fill="#0000b9"/>
<rect x="213" y="775" width="10" height="7" fill="#0000b9"/>
<rect x="110" y="782" width="11" height="7" fill="#0019ff"/>
<rect x="121" y="782" width="10" height="7" fill="#0099ff"/>
<rect x="131" y="782" width="10" height="7" fill="#00ccff"/>
<rect x="141" y="782" width="10" height="7" fill="#3effb9"/>
<rect x="151" y="782" width="11" height="7" fill="#0099ff"/>
<rect x="162" y="782" width="10" height="7" fill="#0000ff"/>
<rect x="172" y="782" width="10" height="7" fill="#0000f3"/>
<rect x="182" y="782" width="10" height="7" fill="#0000d6"/>
<rect x="192" y="782" width="10" height="7" fill="#0000d6"/>
<rect x="100" y="789" width="10" height="7" fill="#0000b9"/>
<rect x="110" y="789" width="11" height="7" fill="#0099ff"/>
<rect x="121" y="789" width="10" height="7" fill="#e2ff15"/>
<rect x="131" y="789" width="10" height="7" fill="#52ffa5"/>
<rect x="141" y="789" width="10" height="7" fill="#0066ff"/>
<rect x="151" y="789" width="11" height="7" fill="#0080ff"/>
<rect x="162" y="789" width="10" height="7" fill="#0019ff"/>
<rect x="182" y="789" width="10" height="7" fill="#0000d6"/>
<rect x="192" y="789" width="10" height="7" fill="#0000d6"/>
<rect x="213" y="789" width="10" height="7" fill="#000091"/>
<rect x="100" y="796" width="10" height="7" fill="#0000d6"/>
<rect x="110" y="796" width="11" height="7" fill="#f7f600"/>
<rect x="121" y="796" width="10" height="7" fill="#e2ff15"/>
<rect x="131" y="796" width="10" height="7" fill="#0066ff"/>
<rect x="141" y="796" width="10" height="7" fill="#3effb9"/>
<rect x="151" y="796" width="11" height="7" fill="#0066ff"/>
<rect x="162" y="796" width="10" height="7" fill="#0000ff"/>
<rect x="172" y="796" width="10" height="7" fill="#0000d6"/>
<rect x="100" y="803" width="10" height="7" fill="#0080ff"/>
<rect x="110" y="803" width="11" height="7" fill="#f7f600"/>
<rect x="121" y="803" width="10" height="7" fill="#7bff7b"/>
<rect x="131" y="803" width="10" height="7" fill="#52ffa5"/>
<rect x="141" y="803" width="10" height="7" fill="#004dff"/>
<rect x="151" y="803" width="11" height="7" fill="#0019ff"/>
<rect x="172" y="803" width="10" height="7" fill="#0000d6"/>
<rect x="100" y="810" width="10" height="7" fill="#00e5f7"/>
<rect x="110" y="810" width="11" height="7" fill="#00ccff"/>
<rect x="121" y="810" width="10" height="7" fill="#004dff"/>
<rect x="131" y="810" width="10" height="7" fill="#0000f3"/>
<rect x="141" y="810" width="10" height="7" fill="#0000d6"/>
<rect x="151" y="810" width="11" height="7" fill="#0000d6"/>
<rect x="162" y="810" width="10" height="7" fill="#0000d6"/>
<rect x="192" y="810" width="10" height="7" fill="#0000b9"/>
<rect x="202" y="810" width="11" height="7" fill="#0000b9"/>
</g>
<line x1="100.24" y1="817.29" x2="533.23" y2="485.6" stroke="#a01424" stroke-width="1.2" clip-path="url(#clip1)"/>
<rect x="90.5" y="485.6" width="448.5" height="333.6" fill="none" stroke="#2e2e2e" stroke-width="1.35"/>
<line x1="90.5" y1="819.2" x2="90.5" y2="824.6" stroke="#2e2e2e" stroke-width="1.3"/>
<text class="tk" x="90.5" y="841.8" text-anchor="middle">0</text>
<line x1="85.1" y1="819.2" x2="90.5" y2="819.2" stroke="#2e2e2e" stroke-width="1.3"/>
<text class="tk" x="79.1" y="824.8" text-anchor="end">0</text>
<line x1="154.57" y1="819.2" x2="154.57" y2="824.6" stroke="#2e2e2e" stroke-width="1.3"/>
<text class="tk" x="154.57" y="841.8" text-anchor="middle">5</text>
<line x1="85.1" y1="771.54" x2="90.5" y2="771.54" stroke="#2e2e2e" stroke-width="1.3"/>
<text class="tk" x="79.1" y="777.14" text-anchor="end">5</text>
<line x1="218.64" y1="819.2" x2="218.64" y2="824.6" stroke="#2e2e2e" stroke-width="1.3"/>
<text class="tk" x="218.64" y="841.8" text-anchor="middle">10</text>
<line x1="85.1" y1="723.89" x2="90.5" y2="723.89" stroke="#2e2e2e" stroke-width="1.3"/>
<text class="tk" x="79.1" y="729.49" text-anchor="end">10</text>
<line x1="282.71" y1="819.2" x2="282.71" y2="824.6" stroke="#2e2e2e" stroke-width="1.3"/>
<text class="tk" x="282.71" y="841.8" text-anchor="middle">15</text>
<line x1="85.1" y1="676.23" x2="90.5" y2="676.23" stroke="#2e2e2e" stroke-width="1.3"/>
<text class="tk" x="79.1" y="681.83" text-anchor="end">15</text>
<line x1="346.79" y1="819.2" x2="346.79" y2="824.6" stroke="#2e2e2e" stroke-width="1.3"/>
<text class="tk" x="346.79" y="841.8" text-anchor="middle">20</text>
<line x1="85.1" y1="628.57" x2="90.5" y2="628.57" stroke="#2e2e2e" stroke-width="1.3"/>
<text class="tk" x="79.1" y="634.17" text-anchor="end">20</text>
<line x1="410.86" y1="819.2" x2="410.86" y2="824.6" stroke="#2e2e2e" stroke-width="1.3"/>
<text class="tk" x="410.86" y="841.8" text-anchor="middle">25</text>
<line x1="85.1" y1="580.91" x2="90.5" y2="580.91" stroke="#2e2e2e" stroke-width="1.3"/>
<text class="tk" x="79.1" y="586.51" text-anchor="end">25</text>
<line x1="474.93" y1="819.2" x2="474.93" y2="824.6" stroke="#2e2e2e" stroke-width="1.3"/>
<text class="tk" x="474.93" y="841.8" text-anchor="middle">30</text>
<line x1="85.1" y1="533.26" x2="90.5" y2="533.26" stroke="#2e2e2e" stroke-width="1.3"/>
<text class="tk" x="79.1" y="538.86" text-anchor="end">30</text>
<line x1="539" y1="819.2" x2="539" y2="824.6" stroke="#2e2e2e" stroke-width="1.3"/>
<text class="tk" x="539" y="841.8" text-anchor="middle">35</text>
<line x1="85.1" y1="485.6" x2="90.5" y2="485.6" stroke="#2e2e2e" stroke-width="1.3"/>
<text class="tk" x="79.1" y="491.2" text-anchor="end">35</text>
<text class="ax" font-size="17px" x="257.0" y="862.7" textLength="114.2" lengthAdjust="spacingAndGlyphs">observed DMS</text>
<text class="ax" font-size="17px" transform="translate(54.2 691.1) rotate(-90)" textLength="76.5" lengthAdjust="spacingAndGlyphs">BPNN DMS</text>
<line x1="410.4" y1="800" x2="440.4" y2="800" stroke="#a8323f" stroke-width="1.5"/>
<text class="ax" font-size="14px" x="446.5" y="805.3" textLength="79.6" lengthAdjust="spacingAndGlyphs">Fitted Line</text>
<rect x="567" y="485.6" width="19.8" height="333.6" fill="url(#jet)" stroke="#30303a" stroke-width="0.9"/>
<line x1="567" y1="819.2" x2="570.8" y2="819.2" stroke="#2a2a2a" stroke-width="0.9"/>
<line x1="583" y1="819.2" x2="586.8" y2="819.2" stroke="#2a2a2a" stroke-width="0.9"/>
<text class="ck" x="591.8" y="824.5">0</text>
<line x1="567" y1="777.5" x2="570.8" y2="777.5" stroke="#2a2a2a" stroke-width="0.9"/>
<line x1="583" y1="777.5" x2="586.8" y2="777.5" stroke="#2a2a2a" stroke-width="0.9"/>
<text class="ck" x="591.8" y="782.8">5</text>
<line x1="567" y1="735.8" x2="570.8" y2="735.8" stroke="#2a2a2a" stroke-width="0.9"/>
<line x1="583" y1="735.8" x2="586.8" y2="735.8" stroke="#2a2a2a" stroke-width="0.9"/>
<text class="ck" x="591.8" y="741.1">10</text>
<line x1="567" y1="694.1" x2="570.8" y2="694.1" stroke="#2a2a2a" stroke-width="0.9"/>
<line x1="583" y1="694.1" x2="586.8" y2="694.1" stroke="#2a2a2a" stroke-width="0.9"/>
<text class="ck" x="591.8" y="699.4">15</text>
<line x1="567" y1="652.4" x2="570.8" y2="652.4" stroke="#2a2a2a" stroke-width="0.9"/>
<line x1="583" y1="652.4" x2="586.8" y2="652.4" stroke="#2a2a2a" stroke-width="0.9"/>
<text class="ck" x="591.8" y="657.7">20</text>
<line x1="567" y1="610.7" x2="570.8" y2="610.7" stroke="#2a2a2a" stroke-width="0.9"/>
<line x1="583" y1="610.7" x2="586.8" y2="610.7" stroke="#2a2a2a" stroke-width="0.9"/>
<text class="ck" x="591.8" y="616">25</text>
<line x1="567" y1="569" x2="570.8" y2="569" stroke="#2a2a2a" stroke-width="0.9"/>
<line x1="583" y1="569" x2="586.8" y2="569" stroke="#2a2a2a" stroke-width="0.9"/>
<text class="ck" x="591.8" y="574.3">30</text>
<line x1="567" y1="527.3" x2="570.8" y2="527.3" stroke="#2a2a2a" stroke-width="0.9"/>
<line x1="583" y1="527.3" x2="586.8" y2="527.3" stroke="#2a2a2a" stroke-width="0.9"/>
<text class="ck" x="591.8" y="532.6">35</text>
<line x1="567" y1="485.6" x2="570.8" y2="485.6" stroke="#2a2a2a" stroke-width="0.9"/>
<line x1="583" y1="485.6" x2="586.8" y2="485.6" stroke="#2a2a2a" stroke-width="0.9"/>
<text class="ck" x="591.8" y="490.9">40</text>
<text class="sd" transform="translate(650.3 640.9) rotate(-90)" text-anchor="middle" textLength="133" lengthAdjust="spacingAndGlyphs">Scatter density</text>
<text class="pl" x="9.6" y="468.7">B</text>
</g>
<g id="panel-C">
<rect x="90.5" y="919.6" width="448.5" height="333.9" fill="none"/>
<text class="st" x="90.6" y="933" xml:space="preserve" textLength="190.1" lengthAdjust="spacingAndGlyphs" style="fill:#8e1b1b">r = 0.85 (p-value &lt; 0.00)</text>
<text class="st" x="90.6" y="952.05" xml:space="preserve" textLength="236.3" lengthAdjust="spacingAndGlyphs">Bias = -0.04 ( <tspan font-family="Liberation Serif,serif" font-size="19px">r</tspan>Bias = -1.36 %)</text>
<text class="st" x="90.6" y="971.1" xml:space="preserve" textLength="245.1" lengthAdjust="spacingAndGlyphs">MAE = 1.24 ( <tspan font-family="Liberation Serif,serif" font-size="19px">r</tspan>MAE = 38.94 %)</text>
<text class="st" x="90.6" y="990.15" xml:space="preserve" textLength="271.2" lengthAdjust="spacingAndGlyphs">RMSE = 2.26  ( <tspan font-family="Liberation Serif,serif" font-size="19px">r</tspan>RMSE = 71.11 %)</text>
<text class="st" x="90.6" y="1009.2" xml:space="preserve" textLength="62.6" lengthAdjust="spacingAndGlyphs">N = 638</text>
<clipPath id="clip2"><rect x="90.5" y="919.6" width="448.5" height="333.9"/></clipPath>
<g shape-rendering="crispEdges" clip-path="url(#clip2)">
<rect x="337" y="922" width="9" height="8" fill="#000091"/>
<rect x="507" y="922" width="9" height="8" fill="#000091"/>
<rect x="284" y="937" width="8" height="7" fill="#000091"/>
<rect x="337" y="937" width="9" height="7" fill="#000091"/>
<rect x="400" y="973" width="9" height="7" fill="#000091"/>
<rect x="391" y="1009" width="9" height="7" fill="#000091"/>
<rect x="248" y="1023" width="9" height="7" fill="#000091"/>
<rect x="212" y="1030" width="9" height="8" fill="#000091"/>
<rect x="337" y="1052" width="9" height="7" fill="#000091"/>
<rect x="257" y="1059" width="9" height="7" fill="#000091"/>
<rect x="248" y="1081" width="9" height="7" fill="#000091"/>
<rect x="185" y="1095" width="9" height="7" fill="#000091"/>
<rect x="158" y="1102" width="9" height="8" fill="#000091"/>
<rect x="239" y="1117" width="9" height="7" fill="#000091"/>
<rect x="167" y="1124" width="9" height="7" fill="#000091"/>
<rect x="149" y="1138" width="9" height="8" fill="#000091"/>
<rect x="194" y="1138" width="9" height="8" fill="#000091"/>
<rect x="149" y="1153" width="9" height="7" fill="#000091"/>
<rect x="140" y="1160" width="9" height="7" fill="#000091"/>
<rect x="230" y="1160" width="9" height="7" fill="#000091"/>
<rect x="122" y="1167" width="9" height="7" fill="#000091"/>
<rect x="149" y="1167" width="9" height="7" fill="#000091"/>
<rect x="185" y="1167" width="9" height="7" fill="#000091"/>
<rect x="149" y="1174" width="9" height="8" fill="#000091"/>
<rect x="158" y="1174" width="9" height="8" fill="#000091"/>
<rect x="185" y="1174" width="9" height="8" fill="#000091"/>
<rect x="122" y="1182" width="9" height="7" fill="#0000d6"/>
<rect x="131" y="1182" width="9" height="7" fill="#0000d6"/>
<rect x="194" y="1182" width="9" height="7" fill="#000091"/>
<rect x="203" y="1182" width="9" height="7" fill="#000091"/>
<rect x="122" y="1189" width="9" height="7" fill="#0000f3"/>
<rect x="131" y="1189" width="9" height="7" fill="#0000d6"/>
<rect x="140" y="1189" width="9" height="7" fill="#0000d6"/>
<rect x="149" y="1189" width="9" height="7" fill="#0000d6"/>
<rect x="158" y="1189" width="9" height="7" fill="#0000b9"/>
<rect x="96" y="1196" width="9" height="7" fill="#000091"/>
<rect x="122" y="1196" width="9" height="7" fill="#0000f3"/>
<rect x="131" y="1196" width="9" height="7" fill="#0000d6"/>
<rect x="140" y="1196" width="9" height="7" fill="#0000d6"/>
<rect x="149" y="1196" width="9" height="7" fill="#0000d6"/>
<rect x="158" y="1196" width="9" height="7" fill="#0000b9"/>
<rect x="248" y="1196" width="9" height="7" fill="#000091"/>
<rect x="114" y="1203" width="8" height="7" fill="#0000b9"/>
<rect x="122" y="1203" width="9" height="7" fill="#0066ff"/>
<rect x="131" y="1203" width="9" height="7" fill="#0000f3"/>
<rect x="140" y="1203" width="9" height="7" fill="#0000d6"/>
<rect x="149" y="1203" width="9" height="7" fill="#0000d6"/>
<rect x="158" y="1203" width="9" height="7" fill="#0000b9"/>
<rect x="167" y="1203" width="9" height="7" fill="#0000b9"/>
<rect x="105" y="1210" width="9" height="8" fill="#0000b9"/>
<rect x="114" y="1210" width="8" height="8" fill="#0033ff"/>
<rect x="122" y="1210" width="9" height="8" fill="#0080ff"/>
<rect x="131" y="1210" width="9" height="8" fill="#29ffce"/>
<rect x="140" y="1210" width="9" height="8" fill="#0000f3"/>
<rect x="149" y="1210" width="9" height="8" fill="#0000d6"/>
<rect x="158" y="1210" width="9" height="8" fill="#0000b9"/>
<rect x="105" y="1218" width="9" height="7" fill="#0000b9"/>
<rect x="114" y="1218" width="8" height="7" fill="#0066ff"/>
<rect x="122" y="1218" width="9" height="7" fill="#3effb9"/>
<rect x="131" y="1218" width="9" height="7" fill="#3effb9"/>
<rect x="140" y="1218" width="9" height="7" fill="#004dff"/>
<rect x="149" y="1218" width="9" height="7" fill="#0000d6"/>
<rect x="158" y="1218" width="9" height="7" fill="#0000b9"/>
<rect x="185" y="1218" width="9" height="7" fill="#000091"/>
<rect x="212" y="1218" width="9" height="7" fill="#000091"/>
<rect x="96" y="1225" width="9" height="7" fill="#0000b9"/>
<rect x="105" y="1225" width="9" height="7" fill="#0099ff"/>
<rect x="114" y="1225" width="8" height="7" fill="#ffaf00"/>
<rect x="122" y="1225" width="9" height="7" fill="#ff5000"/>
<rect x="131" y="1225" width="9" height="7" fill="#3effb9"/>
<rect x="140" y="1225" width="9" height="7" fill="#0000f3"/>
<rect x="158" y="1225" width="9" height="7" fill="#0000b9"/>
<rect x="96" y="1232" width="9" height="7" fill="#0000b9"/>
<rect x="105" y="1232" width="9" height="7" fill="#ff3900"/>
<rect x="114" y="1232" width="8" height="7" fill="#9c0000"/>
<rect x="122" y="1232" width="9" height="7" fill="#ff5000"/>
<rect x="131" y="1232" width="9" height="7" fill="#00b2ff"/>
<rect x="140" y="1232" width="9" height="7" fill="#0000f3"/>
<rect x="149" y="1232" width="9" height="7" fill="#0000d6"/>
<rect x="167" y="1232" width="9" height="7" fill="#0000b9"/>
<rect x="185" y="1232" width="9" height="7" fill="#000091"/>
<rect x="275" y="1232" width="9" height="7" fill="#000091"/>
<rect x="87" y="1239" width="9" height="7" fill="#0000b9"/>
<rect x="96" y="1239" width="9" height="7" fill="#0099ff"/>
<rect x="105" y="1239" width="9" height="7" fill="#b90000"/>
<rect x="114" y="1239" width="8" height="7" fill="#d60000"/>
<rect x="122" y="1239" width="9" height="7" fill="#a5ff52"/>
<rect x="131" y="1239" width="9" height="7" fill="#0000f3"/>
<rect x="140" y="1239" width="9" height="7" fill="#0000d6"/>
<rect x="149" y="1239" width="9" height="7" fill="#0000d6"/>
<rect x="167" y="1239" width="9" height="7" fill="#0000b9"/>
<rect x="257" y="1239" width="9" height="7" fill="#000091"/>
<rect x="87" y="1246" width="9" height="8" fill="#0000ff"/>
<rect x="96" y="1246" width="9" height="8" fill="#ceff29"/>
<rect x="105" y="1246" width="9" height="8" fill="#15ffe2"/>
<rect x="114" y="1246" width="8" height="8" fill="#0019ff"/>
<rect x="122" y="1246" width="9" height="8" fill="#0000f3"/>
<rect x="131" y="1246" width="9" height="8" fill="#0000d6"/>
<rect x="140" y="1246" width="9" height="8" fill="#0000d6"/>
<rect x="149" y="1246" width="9" height="8" fill="#0000d6"/>
<rect x="167" y="1246" width="9" height="8" fill="#0000b9"/>
<rect x="194" y="1246" width="9" height="8" fill="#000091"/>
<rect x="257" y="1246" width="9" height="8" fill="#000091"/>
</g>
<line x1="90.5" y1="1256.08" x2="488.13" y2="919.6" stroke="#a01424" stroke-width="1.2" clip-path="url(#clip2)"/>
<rect x="90.5" y="919.6" width="448.5" height="333.9" fill="none" stroke="#2e2e2e" stroke-width="1.35"/>
<line x1="90.5" y1="1253.5" x2="90.5" y2="1258.9" stroke="#2e2e2e" stroke-width="1.3"/>
<text class="tk" x="90.5" y="1275.8" text-anchor="middle">0</text>
<line x1="85.1" y1="1253.5" x2="90.5" y2="1253.5" stroke="#2e2e2e" stroke-width="1.3"/>
<text class="tk" x="79.1" y="1259.1" text-anchor="end">0</text>
<line x1="154.57" y1="1253.5" x2="154.57" y2="1258.9" stroke="#2e2e2e" stroke-width="1.3"/>
<text class="tk" x="154.57" y="1275.8" text-anchor="middle">5</text>
<line x1="85.1" y1="1205.8" x2="90.5" y2="1205.8" stroke="#2e2e2e" stroke-width="1.3"/>
<text class="tk" x="79.1" y="1211.4" text-anchor="end">5</text>
<line x1="218.64" y1="1253.5" x2="218.64" y2="1258.9" stroke="#2e2e2e" stroke-width="1.3"/>
<text class="tk" x="218.64" y="1275.8" text-anchor="middle">10</text>
<line x1="85.1" y1="1158.1" x2="90.5" y2="1158.1" stroke="#2e2e2e" stroke-width="1.3"/>
<text class="tk" x="79.1" y="1163.7" text-anchor="end">10</text>
<line x1="282.71" y1="1253.5" x2="282.71" y2="1258.9" stroke="#2e2e2e" stroke-width="1.3"/>
<text class="tk" x="282.71" y="1275.8" text-anchor="middle">15</text>
<line x1="85.1" y1="1110.4" x2="90.5" y2="1110.4" stroke="#2e2e2e" stroke-width="1.3"/>
<text class="tk" x="79.1" y="1116" text-anchor="end">15</text>
<line x1="346.79" y1="1253.5" x2="346.79" y2="1258.9" stroke="#2e2e2e" stroke-width="1.3"/>
<text class="tk" x="346.79" y="1275.8" text-anchor="middle">20</text>
<line x1="85.1" y1="1062.7" x2="90.5" y2="1062.7" stroke="#2e2e2e" stroke-width="1.3"/>
<text class="tk" x="79.1" y="1068.3" text-anchor="end">20</text>
<line x1="410.86" y1="1253.5" x2="410.86" y2="1258.9" stroke="#2e2e2e" stroke-width="1.3"/>
<text class="tk" x="410.86" y="1275.8" text-anchor="middle">25</text>
<line x1="85.1" y1="1015" x2="90.5" y2="1015" stroke="#2e2e2e" stroke-width="1.3"/>
<text class="tk" x="79.1" y="1020.6" text-anchor="end">25</text>
<line x1="474.93" y1="1253.5" x2="474.93" y2="1258.9" stroke="#2e2e2e" stroke-width="1.3"/>
<text class="tk" x="474.93" y="1275.8" text-anchor="middle">30</text>
<line x1="85.1" y1="967.3" x2="90.5" y2="967.3" stroke="#2e2e2e" stroke-width="1.3"/>
<text class="tk" x="79.1" y="972.9" text-anchor="end">30</text>
<line x1="539" y1="1253.5" x2="539" y2="1258.9" stroke="#2e2e2e" stroke-width="1.3"/>
<text class="tk" x="539" y="1275.8" text-anchor="middle">35</text>
<line x1="85.1" y1="919.6" x2="90.5" y2="919.6" stroke="#2e2e2e" stroke-width="1.3"/>
<text class="tk" x="79.1" y="925.2" text-anchor="end">35</text>
<text class="ax" font-size="17px" x="257.0" y="1296.7" textLength="114.2" lengthAdjust="spacingAndGlyphs">observed DMS</text>
<text class="ax" font-size="17px" transform="translate(54.2 1125.1) rotate(-90)" textLength="76.5" lengthAdjust="spacingAndGlyphs">BPNN DMS</text>
<line x1="410.4" y1="1234" x2="440.4" y2="1234" stroke="#a8323f" stroke-width="1.5"/>
<text class="ax" font-size="14px" x="446.5" y="1239.3" textLength="79.6" lengthAdjust="spacingAndGlyphs">Fitted Line</text>
<rect x="567" y="919.6" width="19.8" height="333.9" fill="url(#jet)" stroke="#30303a" stroke-width="0.9"/>
<line x1="567" y1="1253.5" x2="570.8" y2="1253.5" stroke="#2a2a2a" stroke-width="0.9"/>
<line x1="583" y1="1253.5" x2="586.8" y2="1253.5" stroke="#2a2a2a" stroke-width="0.9"/>
<text class="ck" x="591.8" y="1258.8">0</text>
<line x1="567" y1="1211.76" x2="570.8" y2="1211.76" stroke="#2a2a2a" stroke-width="0.9"/>
<line x1="583" y1="1211.76" x2="586.8" y2="1211.76" stroke="#2a2a2a" stroke-width="0.9"/>
<text class="ck" x="591.8" y="1217.06">5</text>
<line x1="567" y1="1170.03" x2="570.8" y2="1170.03" stroke="#2a2a2a" stroke-width="0.9"/>
<line x1="583" y1="1170.03" x2="586.8" y2="1170.03" stroke="#2a2a2a" stroke-width="0.9"/>
<text class="ck" x="591.8" y="1175.33">10</text>
<line x1="567" y1="1128.29" x2="570.8" y2="1128.29" stroke="#2a2a2a" stroke-width="0.9"/>
<line x1="583" y1="1128.29" x2="586.8" y2="1128.29" stroke="#2a2a2a" stroke-width="0.9"/>
<text class="ck" x="591.8" y="1133.59">15</text>
<line x1="567" y1="1086.55" x2="570.8" y2="1086.55" stroke="#2a2a2a" stroke-width="0.9"/>
<line x1="583" y1="1086.55" x2="586.8" y2="1086.55" stroke="#2a2a2a" stroke-width="0.9"/>
<text class="ck" x="591.8" y="1091.85">20</text>
<line x1="567" y1="1044.81" x2="570.8" y2="1044.81" stroke="#2a2a2a" stroke-width="0.9"/>
<line x1="583" y1="1044.81" x2="586.8" y2="1044.81" stroke="#2a2a2a" stroke-width="0.9"/>
<text class="ck" x="591.8" y="1050.11">25</text>
<line x1="567" y1="1003.08" x2="570.8" y2="1003.08" stroke="#2a2a2a" stroke-width="0.9"/>
<line x1="583" y1="1003.08" x2="586.8" y2="1003.08" stroke="#2a2a2a" stroke-width="0.9"/>
<text class="ck" x="591.8" y="1008.38">30</text>
<line x1="567" y1="961.34" x2="570.8" y2="961.34" stroke="#2a2a2a" stroke-width="0.9"/>
<line x1="583" y1="961.34" x2="586.8" y2="961.34" stroke="#2a2a2a" stroke-width="0.9"/>
<text class="ck" x="591.8" y="966.64">35</text>
<line x1="567" y1="919.6" x2="570.8" y2="919.6" stroke="#2a2a2a" stroke-width="0.9"/>
<line x1="583" y1="919.6" x2="586.8" y2="919.6" stroke="#2a2a2a" stroke-width="0.9"/>
<text class="ck" x="591.8" y="924.9">40</text>
<text class="sd" transform="translate(648.5 1072) rotate(-90)" text-anchor="middle" textLength="133" lengthAdjust="spacingAndGlyphs">Scatter density</text>
<text class="pl" x="9.5" y="897.6">C</text>
</g>
<g id="panel-D">
<rect x="90.5" y="1353.6" width="448.5" height="334.3" fill="none"/>
<text class="st" x="90.6" y="1391.3" xml:space="preserve" textLength="190.1" lengthAdjust="spacingAndGlyphs" style="fill:#8e1b1b">r = 0.91 (p-value &lt; 0.00)</text>
<text class="st" x="90.6" y="1410.05" xml:space="preserve" textLength="225" lengthAdjust="spacingAndGlyphs">Bias = 0.00 ( <tspan font-family="Liberation Serif,serif" font-size="19px">r</tspan>Bias = 0.28 %)</text>
<text class="st" x="90.6" y="1428.8" xml:space="preserve" textLength="230.2" lengthAdjust="spacingAndGlyphs">MAE = 0.37 ( <tspan font-family="Liberation Serif,serif" font-size="19px">r</tspan>MAE = 22.93 %)</text>
<text class="st" x="90.6" y="1447.55" xml:space="preserve" textLength="251.1" lengthAdjust="spacingAndGlyphs">RMSE = 0.51  ( <tspan font-family="Liberation Serif,serif" font-size="19px">r</tspan>RMSE = 32.00 %)</text>
<text class="st" x="90.6" y="1466.3" xml:space="preserve" textLength="57.8" lengthAdjust="spacingAndGlyphs">N = 466</text>
<clipPath id="clip3"><rect x="90.5" y="1353.6" width="448.5" height="334.3"/></clipPath>
<g shape-rendering="crispEdges" clip-path="url(#clip3)">
<rect x="429" y="1437" width="7" height="5" fill="#0000dc"/>
<rect x="370" y="1487" width="7" height="5" fill="#0000dc"/>
<rect x="392" y="1487" width="7" height="5" fill="#0000dc"/>
<rect x="297" y="1502" width="7" height="5" fill="#0000dc"/>
<rect x="290" y="1517" width="7" height="5" fill="#0000dc"/>
<rect x="275" y="1522" width="7" height="5" fill="#0000dc"/>
<rect x="297" y="1522" width="7" height="5" fill="#0000dc"/>
<rect x="253" y="1537" width="8" height="5" fill="#0000dc"/>
<rect x="166" y="1542" width="7" height="5" fill="#0000dc"/>
<rect x="180" y="1542" width="7" height="5" fill="#0000dc"/>
<rect x="224" y="1542" width="7" height="5" fill="#0000dc"/>
<rect x="231" y="1542" width="8" height="5" fill="#0000dc"/>
<rect x="253" y="1542" width="8" height="5" fill="#0000dc"/>
<rect x="261" y="1542" width="7" height="5" fill="#00b2ff"/>
<rect x="268" y="1542" width="7" height="5" fill="#0000dc"/>
<rect x="275" y="1542" width="7" height="5" fill="#0000dc"/>
<rect x="282" y="1542" width="8" height="5" fill="#0000dc"/>
<rect x="209" y="1547" width="8" height="5" fill="#0000dc"/>
<rect x="231" y="1547" width="8" height="5" fill="#0000dc"/>
<rect x="246" y="1547" width="7" height="5" fill="#0000dc"/>
<rect x="297" y="1547" width="7" height="5" fill="#0000dc"/>
<rect x="246" y="1552" width="7" height="5" fill="#0000dc"/>
<rect x="224" y="1557" width="7" height="5" fill="#0000dc"/>
<rect x="246" y="1557" width="7" height="5" fill="#0000dc"/>
<rect x="261" y="1557" width="7" height="5" fill="#0000dc"/>
<rect x="239" y="1562" width="7" height="5" fill="#0000dc"/>
<rect x="246" y="1562" width="7" height="5" fill="#0000dc"/>
<rect x="253" y="1562" width="8" height="5" fill="#0000dc"/>
<rect x="261" y="1562" width="7" height="5" fill="#0000dc"/>
<rect x="224" y="1567" width="7" height="5" fill="#0000dc"/>
<rect x="239" y="1567" width="7" height="5" fill="#0000dc"/>
<rect x="246" y="1567" width="7" height="5" fill="#0000dc"/>
<rect x="253" y="1567" width="8" height="5" fill="#0000dc"/>
<rect x="268" y="1567" width="7" height="5" fill="#0000dc"/>
<rect x="202" y="1572" width="7" height="5" fill="#0000dc"/>
<rect x="224" y="1572" width="7" height="5" fill="#00b2ff"/>
<rect x="246" y="1572" width="7" height="5" fill="#0000dc"/>
<rect x="253" y="1572" width="8" height="5" fill="#0000dc"/>
<rect x="261" y="1572" width="7" height="5" fill="#0000dc"/>
<rect x="290" y="1572" width="7" height="5" fill="#0000dc"/>
<rect x="129" y="1577" width="7" height="5" fill="#0000dc"/>
<rect x="187" y="1577" width="8" height="5" fill="#0000dc"/>
<rect x="217" y="1577" width="7" height="5" fill="#00b2ff"/>
<rect x="246" y="1577" width="7" height="5" fill="#004dff"/>
<rect x="253" y="1577" width="8" height="5" fill="#0000dc"/>
<rect x="334" y="1577" width="7" height="5" fill="#0000dc"/>
<rect x="151" y="1582" width="7" height="5" fill="#0000dc"/>
<rect x="166" y="1582" width="7" height="5" fill="#0000dc"/>
<rect x="209" y="1582" width="8" height="5" fill="#0000dc"/>
<rect x="231" y="1582" width="8" height="5" fill="#0000dc"/>
<rect x="246" y="1582" width="7" height="5" fill="#004dff"/>
<rect x="261" y="1582" width="7" height="5" fill="#0000dc"/>
<rect x="166" y="1587" width="7" height="5" fill="#0000dc"/>
<rect x="187" y="1587" width="8" height="5" fill="#004dff"/>
<rect x="209" y="1587" width="8" height="5" fill="#0000dc"/>
<rect x="217" y="1587" width="7" height="5" fill="#0000dc"/>
<rect x="224" y="1587" width="7" height="5" fill="#0000dc"/>
<rect x="231" y="1587" width="8" height="5" fill="#0000dc"/>
<rect x="239" y="1587" width="7" height="5" fill="#004dff"/>
<rect x="261" y="1587" width="7" height="5" fill="#0000dc"/>
<rect x="114" y="1592" width="8" height="5" fill="#0000dc"/>
<rect x="187" y="1592" width="8" height="5" fill="#0000dc"/>
<rect x="195" y="1592" width="7" height="5" fill="#0000dc"/>
<rect x="202" y="1592" width="7" height="5" fill="#0000dc"/>
<rect x="224" y="1592" width="7" height="5" fill="#0000dc"/>
<rect x="180" y="1597" width="7" height="5" fill="#0000dc"/>
<rect x="195" y="1597" width="7" height="5" fill="#0000dc"/>
<rect x="202" y="1597" width="7" height="5" fill="#0000dc"/>
<rect x="209" y="1597" width="8" height="5" fill="#004dff"/>
<rect x="217" y="1597" width="7" height="5" fill="#00b2ff"/>
<rect x="224" y="1597" width="7" height="5" fill="#0000dc"/>
<rect x="122" y="1602" width="7" height="5" fill="#0000dc"/>
<rect x="151" y="1602" width="7" height="5" fill="#0000dc"/>
<rect x="166" y="1602" width="7" height="5" fill="#0000dc"/>
<rect x="180" y="1602" width="7" height="5" fill="#0000dc"/>
<rect x="187" y="1602" width="8" height="5" fill="#00b2ff"/>
<rect x="195" y="1602" width="7" height="5" fill="#0000dc"/>
<rect x="209" y="1602" width="8" height="5" fill="#004dff"/>
<rect x="151" y="1607" width="7" height="5" fill="#0000dc"/>
<rect x="166" y="1607" width="7" height="5" fill="#0000dc"/>
<rect x="180" y="1607" width="7" height="5" fill="#0000dc"/>
<rect x="187" y="1607" width="8" height="5" fill="#0000dc"/>
<rect x="195" y="1607" width="7" height="5" fill="#0000dc"/>
<rect x="217" y="1607" width="7" height="5" fill="#0000dc"/>
<rect x="144" y="1612" width="7" height="5" fill="#0000dc"/>
<rect x="158" y="1612" width="8" height="5" fill="#00b2ff"/>
<rect x="166" y="1612" width="7" height="5" fill="#004dff"/>
<rect x="173" y="1612" width="7" height="5" fill="#004dff"/>
<rect x="180" y="1612" width="7" height="5" fill="#004dff"/>
<rect x="187" y="1612" width="8" height="5" fill="#0000dc"/>
<rect x="195" y="1612" width="7" height="5" fill="#0000dc"/>
<rect x="136" y="1617" width="8" height="5" fill="#0000dc"/>
<rect x="151" y="1617" width="7" height="5" fill="#0000dc"/>
<rect x="166" y="1617" width="7" height="5" fill="#7bff7b"/>
<rect x="173" y="1617" width="7" height="5" fill="#004dff"/>
<rect x="180" y="1617" width="7" height="5" fill="#00b2ff"/>
<rect x="187" y="1617" width="8" height="5" fill="#0000dc"/>
<rect x="195" y="1617" width="7" height="5" fill="#0000dc"/>
<rect x="202" y="1617" width="7" height="5" fill="#00b2ff"/>
<rect x="136" y="1622" width="8" height="5" fill="#0000dc"/>
<rect x="144" y="1622" width="7" height="5" fill="#0000dc"/>
<rect x="151" y="1622" width="7" height="5" fill="#004dff"/>
<rect x="158" y="1622" width="8" height="5" fill="#00b2ff"/>
<rect x="166" y="1622" width="7" height="5" fill="#004dff"/>
<rect x="173" y="1622" width="7" height="5" fill="#004dff"/>
<rect x="180" y="1622" width="7" height="5" fill="#00b2ff"/>
<rect x="187" y="1622" width="8" height="5" fill="#0000dc"/>
<rect x="217" y="1622" width="7" height="5" fill="#0000dc"/>
<rect x="224" y="1622" width="7" height="5" fill="#0000dc"/>
<rect x="129" y="1627" width="7" height="5" fill="#0000dc"/>
<rect x="144" y="1627" width="7" height="5" fill="#004dff"/>
<rect x="151" y="1627" width="7" height="5" fill="#00b2ff"/>
<rect x="158" y="1627" width="8" height="5" fill="#ceff29"/>
<rect x="166" y="1627" width="7" height="5" fill="#ffc600"/>
<rect x="173" y="1627" width="7" height="5" fill="#004dff"/>
<rect x="180" y="1627" width="7" height="5" fill="#004dff"/>
<rect x="114" y="1632" width="8" height="5" fill="#0000dc"/>
<rect x="129" y="1632" width="7" height="5" fill="#0000dc"/>
<rect x="136" y="1632" width="8" height="5" fill="#0000dc"/>
<rect x="144" y="1632" width="7" height="5" fill="#0000dc"/>
<rect x="151" y="1632" width="7" height="5" fill="#00b2ff"/>
<rect x="158" y="1632" width="8" height="5" fill="#29ffce"/>
<rect x="166" y="1632" width="7" height="5" fill="#29ffce"/>
<rect x="180" y="1632" width="7" height="5" fill="#004dff"/>
<rect x="136" y="1637" width="8" height="5" fill="#ceff29"/>
<rect x="144" y="1637" width="7" height="5" fill="#ceff29"/>
<rect x="151" y="1637" width="7" height="5" fill="#0000dc"/>
<rect x="158" y="1637" width="8" height="5" fill="#29ffce"/>
<rect x="166" y="1637" width="7" height="5" fill="#29ffce"/>
<rect x="173" y="1637" width="7" height="5" fill="#004dff"/>
<rect x="224" y="1637" width="7" height="5" fill="#0000dc"/>
<rect x="122" y="1642" width="7" height="5" fill="#0000dc"/>
<rect x="129" y="1642" width="7" height="5" fill="#004dff"/>
<rect x="136" y="1642" width="8" height="5" fill="#ceff29"/>
<rect x="144" y="1642" width="7" height="5" fill="#ceff29"/>
<rect x="151" y="1642" width="7" height="5" fill="#29ffce"/>
<rect x="158" y="1642" width="8" height="5" fill="#004dff"/>
<rect x="166" y="1642" width="7" height="5" fill="#0000dc"/>
<rect x="173" y="1642" width="7" height="5" fill="#004dff"/>
<rect x="180" y="1642" width="7" height="5" fill="#004dff"/>
<rect x="187" y="1642" width="8" height="5" fill="#004dff"/>
<rect x="114" y="1647" width="8" height="5" fill="#0000dc"/>
<rect x="122" y="1647" width="7" height="5" fill="#29ffce"/>
<rect x="129" y="1647" width="7" height="5" fill="#0000dc"/>
<rect x="136" y="1647" width="8" height="5" fill="#ff6800"/>
<rect x="144" y="1647" width="7" height="5" fill="#00b2ff"/>
<rect x="151" y="1647" width="7" height="5" fill="#29ffce"/>
<rect x="158" y="1647" width="8" height="5" fill="#004dff"/>
<rect x="166" y="1647" width="7" height="5" fill="#00b2ff"/>
<rect x="180" y="1647" width="7" height="5" fill="#004dff"/>
<rect x="187" y="1647" width="8" height="5" fill="#004dff"/>
<rect x="114" y="1652" width="8" height="5" fill="#0000dc"/>
<rect x="122" y="1652" width="7" height="5" fill="#29ffce"/>
<rect x="129" y="1652" width="7" height="5" fill="#004dff"/>
<rect x="136" y="1652" width="8" height="5" fill="#ffc600"/>
<rect x="144" y="1652" width="7" height="5" fill="#00b2ff"/>
<rect x="151" y="1652" width="7" height="5" fill="#004dff"/>
<rect x="158" y="1652" width="8" height="5" fill="#0000dc"/>
<rect x="166" y="1652" width="7" height="5" fill="#0000dc"/>
<rect x="173" y="1652" width="7" height="5" fill="#004dff"/>
<rect x="180" y="1652" width="7" height="5" fill="#004dff"/>
<rect x="100" y="1657" width="7" height="5" fill="#0000dc"/>
<rect x="107" y="1657" width="7" height="5" fill="#29ffce"/>
<rect x="114" y="1657" width="8" height="5" fill="#29ffce"/>
<rect x="122" y="1657" width="7" height="5" fill="#ceff29"/>
<rect x="129" y="1657" width="7" height="5" fill="#004dff"/>
<rect x="136" y="1657" width="8" height="5" fill="#00b2ff"/>
<rect x="144" y="1657" width="7" height="5" fill="#29ffce"/>
<rect x="151" y="1657" width="7" height="5" fill="#0000dc"/>
<rect x="158" y="1657" width="8" height="5" fill="#0000dc"/>
<rect x="173" y="1657" width="7" height="5" fill="#004dff"/>
<rect x="180" y="1657" width="7" height="5" fill="#004dff"/>
<rect x="187" y="1657" width="8" height="5" fill="#004dff"/>
<rect x="100" y="1662" width="7" height="5" fill="#0000dc"/>
<rect x="107" y="1662" width="7" height="5" fill="#0000dc"/>
<rect x="114" y="1662" width="8" height="5" fill="#ceff29"/>
<rect x="122" y="1662" width="7" height="5" fill="#00b2ff"/>
<rect x="129" y="1662" width="7" height="5" fill="#29ffce"/>
<rect x="136" y="1662" width="8" height="5" fill="#00b2ff"/>
<rect x="144" y="1662" width="7" height="5" fill="#004dff"/>
<rect x="151" y="1662" width="7" height="5" fill="#0000dc"/>
<rect x="173" y="1662" width="7" height="5" fill="#004dff"/>
<rect x="180" y="1662" width="7" height="5" fill="#004dff"/>
<rect x="100" y="1667" width="7" height="5" fill="#7bff7b"/>
<rect x="107" y="1667" width="7" height="5" fill="#7bff7b"/>
<rect x="114" y="1667" width="8" height="5" fill="#ff6800"/>
<rect x="122" y="1667" width="7" height="5" fill="#29ffce"/>
<rect x="129" y="1667" width="7" height="5" fill="#00b2ff"/>
<rect x="136" y="1667" width="8" height="5" fill="#29ffce"/>
<rect x="144" y="1667" width="7" height="5" fill="#004dff"/>
<rect x="151" y="1667" width="7" height="5" fill="#0000dc"/>
<rect x="92" y="1672" width="8" height="5" fill="#0000dc"/>
<rect x="100" y="1672" width="7" height="5" fill="#29ffce"/>
<rect x="107" y="1672" width="7" height="5" fill="#004dff"/>
<rect x="114" y="1672" width="8" height="5" fill="#ffc600"/>
<rect x="122" y="1672" width="7" height="5" fill="#00b2ff"/>
<rect x="129" y="1672" width="7" height="5" fill="#0000dc"/>
<rect x="136" y="1672" width="8" height="5" fill="#0000dc"/>
<rect x="144" y="1672" width="7" height="5" fill="#0000dc"/>
<rect x="151" y="1672" width="7" height="5" fill="#0000dc"/>
<rect x="158" y="1672" width="8" height="5" fill="#0000dc"/>
<rect x="92" y="1677" width="8" height="5" fill="#00b2ff"/>
<rect x="100" y="1677" width="7" height="5" fill="#ffc600"/>
<rect x="107" y="1677" width="7" height="5" fill="#ff6800"/>
<rect x="114" y="1677" width="8" height="5" fill="#29ffce"/>
<rect x="122" y="1677" width="7" height="5" fill="#29ffce"/>
<rect x="92" y="1682" width="8" height="5" fill="#7bff7b"/>
<rect x="100" y="1682" width="7" height="5" fill="#00b2ff"/>
<rect x="107" y="1682" width="7" height="5" fill="#800000"/>
<rect x="114" y="1682" width="8" height="5" fill="#29ffce"/>
</g>
<line x1="90.5" y1="1686.9" x2="436.29" y2="1433.83" stroke="#a01424" stroke-width="1.2" clip-path="url(#clip3)"/>
<rect x="90.5" y="1353.6" width="448.5" height="334.3" fill="none" stroke="#2e2e2e" stroke-width="1.35"/>
<line x1="90.5" y1="1687.9" x2="90.5" y2="1693.3" stroke="#2e2e2e" stroke-width="1.3"/>
<text class="tk" x="90.5" y="1709.8" text-anchor="middle">0</text>
<line x1="85.1" y1="1687.9" x2="90.5" y2="1687.9" stroke="#2e2e2e" stroke-width="1.3"/>
<text class="tk" x="79.1" y="1693.5" text-anchor="end">0</text>
<line x1="180.2" y1="1687.9" x2="180.2" y2="1693.3" stroke="#2e2e2e" stroke-width="1.3"/>
<text class="tk" x="180.2" y="1709.8" text-anchor="middle">2</text>
<line x1="85.1" y1="1621.04" x2="90.5" y2="1621.04" stroke="#2e2e2e" stroke-width="1.3"/>
<text class="tk" x="79.1" y="1626.64" text-anchor="end">2</text>
<line x1="269.9" y1="1687.9" x2="269.9" y2="1693.3" stroke="#2e2e2e" stroke-width="1.3"/>
<text class="tk" x="269.9" y="1709.8" text-anchor="middle">4</text>
<line x1="85.1" y1="1554.18" x2="90.5" y2="1554.18" stroke="#2e2e2e" stroke-width="1.3"/>
<text class="tk" x="79.1" y="1559.78" text-anchor="end">4</text>
<line x1="359.6" y1="1687.9" x2="359.6" y2="1693.3" stroke="#2e2e2e" stroke-width="1.3"/>
<text class="tk" x="359.6" y="1709.8" text-anchor="middle">6</text>
<line x1="85.1" y1="1487.32" x2="90.5" y2="1487.32" stroke="#2e2e2e" stroke-width="1.3"/>
<text class="tk" x="79.1" y="1492.92" text-anchor="end">6</text>
<line x1="449.3" y1="1687.9" x2="449.3" y2="1693.3" stroke="#2e2e2e" stroke-width="1.3"/>
<text class="tk" x="449.3" y="1709.8" text-anchor="middle">8</text>
<line x1="85.1" y1="1420.46" x2="90.5" y2="1420.46" stroke="#2e2e2e" stroke-width="1.3"/>
<text class="tk" x="79.1" y="1426.06" text-anchor="end">8</text>
<line x1="539" y1="1687.9" x2="539" y2="1693.3" stroke="#2e2e2e" stroke-width="1.3"/>
<text class="tk" x="539" y="1709.8" text-anchor="middle">10</text>
<line x1="85.1" y1="1353.6" x2="90.5" y2="1353.6" stroke="#2e2e2e" stroke-width="1.3"/>
<text class="tk" x="79.1" y="1359.2" text-anchor="end">10</text>
<text class="ax" font-size="17px" x="257.0" y="1730.7" textLength="114.2" lengthAdjust="spacingAndGlyphs">observed DMS</text>
<text class="ax" font-size="17px" transform="translate(54.2 1559.1) rotate(-90)" textLength="76.5" lengthAdjust="spacingAndGlyphs">BPNN DMS</text>
<line x1="410.4" y1="1668" x2="440.4" y2="1668" stroke="#a8323f" stroke-width="1.5"/>
<text class="ax" font-size="14px" x="446.5" y="1673.3" textLength="79.6" lengthAdjust="spacingAndGlyphs">Fitted Line</text>
<rect x="567" y="1353.6" width="19.8" height="334.3" fill="url(#jet)" stroke="#30303a" stroke-width="0.9"/>
<line x1="567" y1="1687.9" x2="570.8" y2="1687.9" stroke="#2a2a2a" stroke-width="0.9"/>
<line x1="583" y1="1687.9" x2="586.8" y2="1687.9" stroke="#2a2a2a" stroke-width="0.9"/>
<text class="ck" x="591.8" y="1693.2">0</text>
<line x1="567" y1="1621.04" x2="570.8" y2="1621.04" stroke="#2a2a2a" stroke-width="0.9"/>
<line x1="583" y1="1621.04" x2="586.8" y2="1621.04" stroke="#2a2a2a" stroke-width="0.9"/>
<text class="ck" x="591.8" y="1626.34">2</text>
<line x1="567" y1="1554.18" x2="570.8" y2="1554.18" stroke="#2a2a2a" stroke-width="0.9"/>
<line x1="583" y1="1554.18" x2="586.8" y2="1554.18" stroke="#2a2a2a" stroke-width="0.9"/>
<text class="ck" x="591.8" y="1559.48">4</text>
<line x1="567" y1="1487.32" x2="570.8" y2="1487.32" stroke="#2a2a2a" stroke-width="0.9"/>
<line x1="583" y1="1487.32" x2="586.8" y2="1487.32" stroke="#2a2a2a" stroke-width="0.9"/>
<text class="ck" x="591.8" y="1492.62">6</text>
<line x1="567" y1="1420.46" x2="570.8" y2="1420.46" stroke="#2a2a2a" stroke-width="0.9"/>
<line x1="583" y1="1420.46" x2="586.8" y2="1420.46" stroke="#2a2a2a" stroke-width="0.9"/>
<text class="ck" x="591.8" y="1425.76">8</text>
<line x1="567" y1="1353.6" x2="570.8" y2="1353.6" stroke="#2a2a2a" stroke-width="0.9"/>
<line x1="583" y1="1353.6" x2="586.8" y2="1353.6" stroke="#2a2a2a" stroke-width="0.9"/>
<text class="ck" x="591.8" y="1358.9">10</text>
<text class="sd" transform="translate(644.5 1500.9) rotate(-90)" text-anchor="middle" textLength="133" lengthAdjust="spacingAndGlyphs">Scatter density</text>
<text class="pl" x="9.6" y="1335.3">D</text>
</g>
</svg></body></html>
